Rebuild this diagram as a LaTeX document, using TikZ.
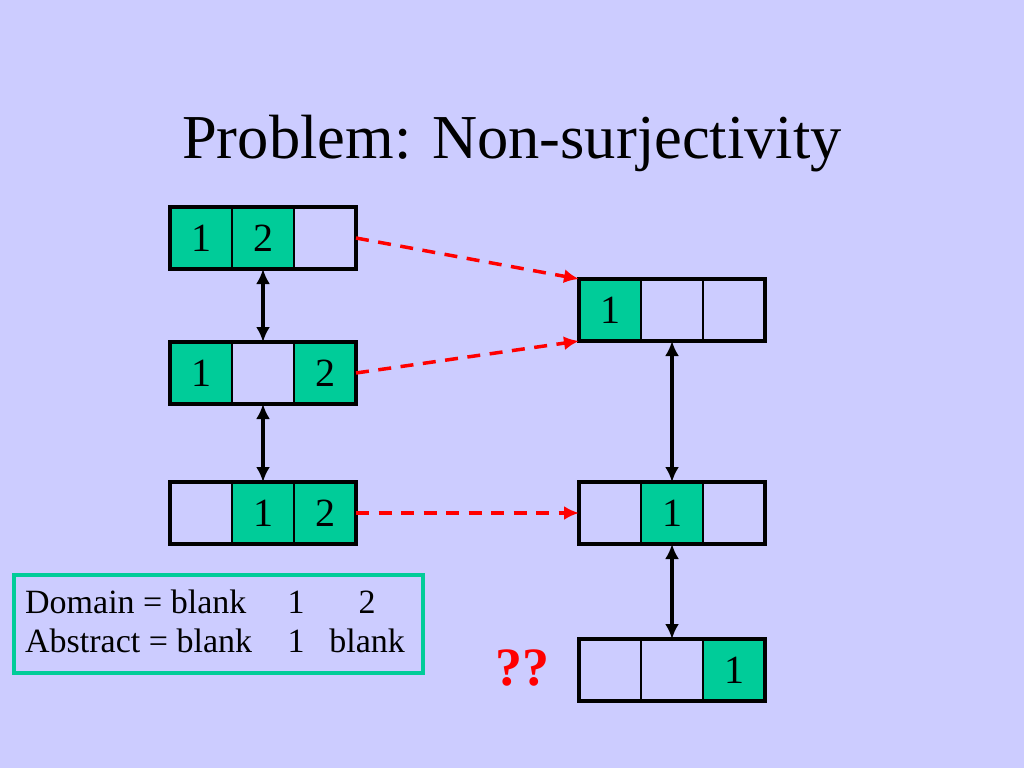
\documentclass[tikz,border=0pt]{standalone}
\usepackage{fontspec}
\setmainfont{Liberation Serif}
\usepackage{tikz}
\usetikzlibrary{arrows.meta}
\usetikzlibrary{positioning,fit}
\definecolor{Lavender}{RGB}{204,204,255}
\definecolor{SlotGreen}{RGB}{0,204,153}
\definecolor{MapRed}{RGB}{255,0,0}

\begin{document}
\begin{tikzpicture}[x=1pt,y=-1pt,
    cell/.style={draw,line width=1.4pt,minimum width=62pt,minimum height=62pt,inner sep=0pt,outer sep=0pt,font=\fontsize{40}{40}\selectfont},
    used/.style={cell,fill=SlotGreen},
    free/.style={cell},
    slots/.style={draw,line width=3.5pt,inner sep=0pt,outer sep=0pt},
    map/.style={MapRed,line width=3.5pt,dash pattern=on 13pt off 9.5pt,->,>={Latex[length=15pt,width=14pt]}},
    equiv/.style={line width=3.5pt,<->,>={Latex[length=15pt,width=14pt]}},
    keytext/.style={inner sep=0pt,anchor=base west,font=\fontsize{34}{39}\selectfont}]
      \fill[Lavender] (0,0) rectangle (1024,768);
      \node[anchor=base,font=\fontsize{62.5}{70}\selectfont] (title) at (512,158) {Problem: Non-surjectivity};
      % domain states
      \node[used] (a1) at (201,238) {1}; \node[used,right=0pt of a1] (a2) {2}; \node[free,right=0pt of a2] (a3) {};
      \node[used] (b1) at (201,373) {1}; \node[free,right=0pt of b1] (b2) {}; \node[used,right=0pt of b2] (b3) {2};
      \node[free] (c1) at (201,513) {}; \node[used,right=0pt of c1] (c2) {1}; \node[used,right=0pt of c2] (c3) {2};
      \node[slots,fit=(a1)(a3)] (A) {};
      \node[slots,fit=(b1)(b3)] (B) {};
      \node[slots,fit=(c1)(c3)] (C) {};
      % abstract states
      \node[used] (d1) at (610,310) {1}; \node[free,right=0pt of d1] (d2) {}; \node[free,right=0pt of d2] (d3) {};
      \node[free] (e1) at (610,513) {}; \node[used,right=0pt of e1] (e2) {1}; \node[free,right=0pt of e2] (e3) {};
      \node[free] (f1) at (610,670) {}; \node[free,right=0pt of f1] (f2) {}; \node[used,right=0pt of f2] (f3) {1};
      \node[slots,fit=(d1)(d3)] (D) {};
      \node[slots,fit=(e1)(e3)] (E) {};
      \node[slots,fit=(f1)(f3)] (F) {};
      \draw[map] (A.east) -- (D.north west);
      \draw[map] (B.east) -- (D.south west);
      \draw[map] (C.east) -- (E.west);
      \draw[equiv] (A.south) -- (B.north);
      \draw[equiv] (B.south) -- (C.north);
      \draw[equiv] (D.south) -- (E.north);
      \draw[equiv] (E.south) -- (F.north);
      \node[anchor=base,text=MapRed,font=\fontsize{54}{54}\selectfont\bfseries] (ask) at (522,685) {??};
      % key
      \node[draw=SlotGreen,line width=4pt,minimum width=409pt,minimum height=98pt] (key) at (218.5,624) {};
      \node[keytext] (dom) at (25,613) {\makebox[246pt][l]{Domain = blank}\makebox[50pt]{1}\makebox[92pt]{2}};
      \node[keytext] (abs) at (25,652) {\makebox[246pt][l]{Abstract = blank}\makebox[50pt]{1}\makebox[92pt]{blank}};
\end{tikzpicture}
\end{document}
